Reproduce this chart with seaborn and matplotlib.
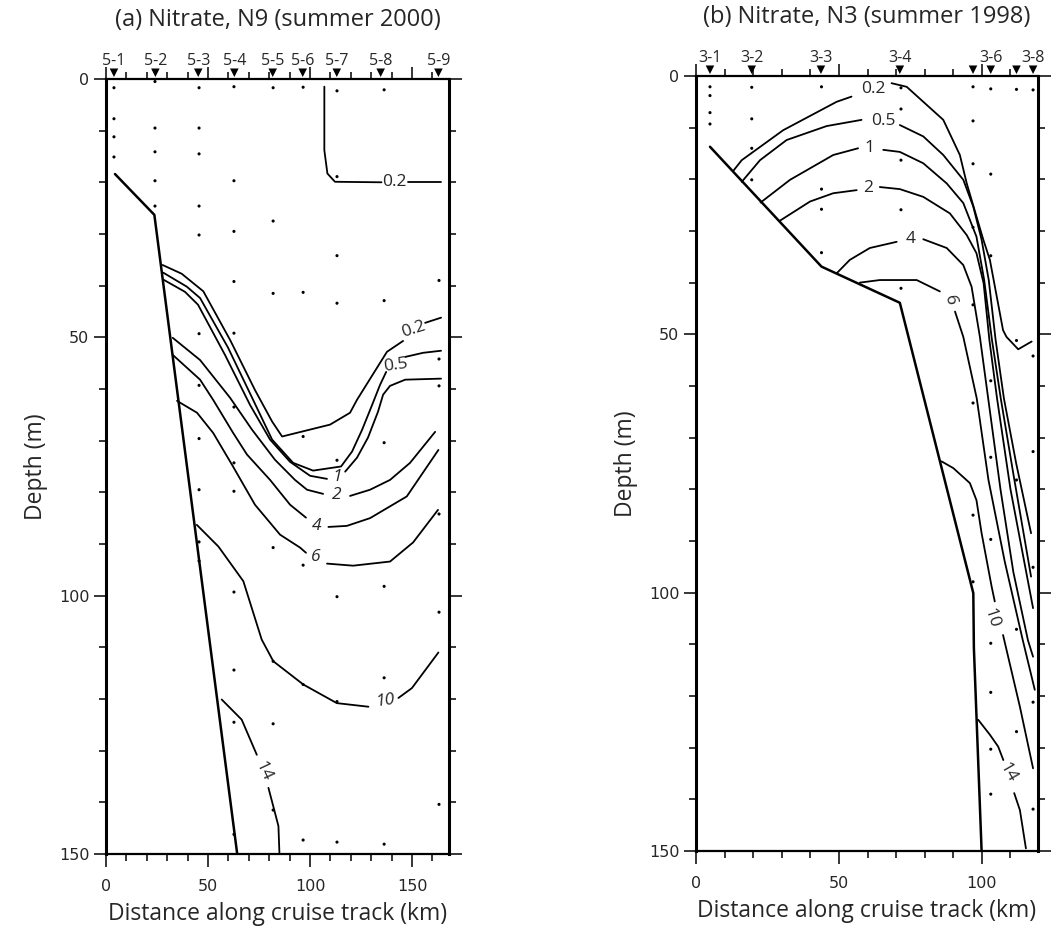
import numpy as np
import matplotlib
matplotlib.use("Agg")
import matplotlib.pyplot as plt
import seaborn as sns
from matplotlib.ticker import MultipleLocator

sns.set_theme(style="ticks")
plt.rcParams["font.family"] = ["Open Sans", "DejaVu Sans"]

nan = np.nan

# ---------------- Panel (a): N9, summer 2000 ----------------
a_station_km = [3.9, 24.2, 45.2, 62.9, 81.7, 96.4, 113.1, 134.6, 162.9]
a_station_lbl = ["5-1", "5-2", "5-3", "5-4", "5-5", "5-6", "5-7", "5-8", "5-9"]
a_bottom_km = [4.4, 23.7, 64.3]
a_bottom_z = [18.4, 26.3, 150.0]
a_cast_km = [3.9, 24.0, 45.6, 62.7, 81.9, 96.6, 113.2, 136.3, 163.2]
a_cast_z = [
    [1.7, 7.7, 11.2, 15.1],
    [0.5, 9.5, 14.1, 19.7, 24.6],
    [1.7, 9.5, 14.5, 24.6, 30.2, 49.3, 59.3, 69.6, 79.5, 89.6, 93.3],
    [1.5, 19.7, 29.5, 39.2, 49.2, 63.5, 74.3, 79.8, 99.3, 114.4, 124.5, 146.2],
    [1.7, 27.5, 41.5, 90.7, 112.7, 124.8, 141.5],
    [1.6, 41.3, 69.2, 94.1, 117.2, 147.3],
    [2.3, 18.9, 34.2, 43.4, 73.8, 100.2, 120.5, 147.7],
    [2.1, 42.9, 70.4, 98.2, 115.9, 148.1],
    [39.0, 54.2, 59.4, 84.2, 103.2, 140.4],
]
# contour lines (nan = gap for the label)
a_c02top_x = [107.0, 107.0, 108.5, 112.2, 135.0, nan, 148.0, 164.2]
a_c02top_z = [1.5, 13.8, 18.3, 19.9, 20.0, nan, 20.0, 20.0]
a_c02_x = [27.7, 37.1, 47.7, 60.8, 73.0, 81.4, 86.3, 109.8, 119.6, 123.0, 137.7, 145.6, nan, 156.4, 164.2]
a_c02_z = [36.0, 37.7, 41.1, 50.5, 60.2, 66.3, 69.2, 66.9, 64.6, 62.1, 52.8, 50.7, nan, 47.2, 46.2]
a_c05_x = [28.1, 39.6, 46.1, 59.8, 71.6, 81.4, 91.7, 101.5, 115.2, 120.6, 125.5, 130.4, 134.3, 137.3, nan, 146.6, 155.4, 164.2]
a_c05_z = [37.5, 40.2, 42.4, 52.0, 61.7, 69.8, 74.3, 75.8, 75.0, 72.1, 67.9, 63.1, 59.2, 56.7, nan, 53.8, 53.0, 52.6]
a_c1_x = [28.4, 38.7, 45.1, 58.3, 70.6, 80.4, 90.2, 100.0, 108.3, nan, 117.2, 123.0, 128.4, 133.3, 135.8, 139.2, 146.6, 164.2]
a_c1_z = [38.9, 41.2, 43.7, 53.4, 63.1, 69.8, 74.1, 76.8, 77.4, nan, 76.0, 73.3, 69.4, 64.4, 61.1, 59.4, 58.2, 58.0]
a_c2_x = [32.7, 46.1, 60.8, 71.6, 82.8, 92.6, 98.5, 106.4, nan, 119.6, 129.4, 139.2, 149.0, 161.3]
a_c2_z = [50.1, 54.4, 61.7, 67.9, 73.7, 77.6, 79.5, 80.3, nan, 80.7, 79.5, 77.6, 74.3, 68.3]
a_c4_x = [32.7, 46.1, 52.5, 62.3, 69.1, 80.4, 90.2, 98.0, nan, 109.0, 118.0, 129.4, 147.4, 162.9]
a_c4_z = [53.4, 58.2, 62.1, 68.5, 72.7, 77.6, 82.4, 84.9, nan, 86.7, 86.5, 85.0, 80.8, 71.8]
a_c6_x = [34.8, 44.6, 52.5, 61.8, 73.0, 85.3, 95.1, 98.0, nan, 108.3, 121.1, 139.2, 150.5, 162.7]
a_c6_z = [62.3, 64.6, 68.5, 74.7, 82.4, 88.2, 90.7, 91.7, nan, 93.8, 94.2, 93.4, 89.7, 83.4]
a_c10_x = [44.5, 55.1, 67.3, 76.3, 82.0, 96.7, 113.1, 128.6, nan, 143.3, 149.9, 162.9]
a_c10_z = [86.3, 90.5, 97.2, 108.5, 112.7, 117.2, 120.8, 121.5, nan, 119.8, 117.9, 111.0]
a_c14_x = [56.7, 66.5, 73.9, nan, 79.6, 82.4, 84.5, 85.0]
a_c14_z = [120.1, 124.0, 130.8, nan, 137.2, 141.4, 144.6, 150.0]
a_lbl_text = ["0.2", "0.2", "0.5", "1", "2", "4", "6", "10", "14"]
a_lbl_x = [141.5, 150.5, 142.2, 113.2, 113.2, 103.3, 102.9, 136.8, 77.1]
a_lbl_z = [20.0, 48.5, 55.5, 77.0, 80.5, 86.5, 92.5, 120.4, 134.0]
a_lbl_rot = [0, 18, 8, 0, 0, 0, 0, 8, -65]
a_lbl_style = ["normal", "normal", "normal", "italic", "italic", "italic", "italic", "italic", "normal"]

# ---------------- Panel (b): N3, summer 1998 ----------------
b_station_km = [4.9, 19.5, 43.7, 71.3, 96.9, 103.1, 112.1, 117.9]
b_station_lbl = ["3-1", "3-2", "3-3", "3-4", "", "3-6", "", "3-8"]
b_bottom_km = [4.9, 43.9, 71.3, 97.0, 97.2, 99.9]
b_bottom_z = [13.7, 36.9, 43.9, 100.1, 110.7, 150.0]
b_cast_km = [4.9, 19.5, 43.9, 71.7, 96.9, 103.1, 112.1, 117.9]
b_cast_z = [
    [2.1, 3.8, 7.1, 9.3],
    [2.2, 8.3, 14.0, 20.1],
    [2.1, 21.9, 25.8, 34.2],
    [2.3, 6.4, 16.3, 25.9, 41.1],
    [2.1, 8.7, 17.0, 29.3, 44.3, 63.3, 85.0, 97.9],
    [2.5, 19.0, 34.8, 59.0, 73.8, 89.7, 109.8, 119.3, 130.3, 139.0],
    [2.6, 51.2, 78.2, 107.1, 126.9],
    [2.7, 54.2, 72.7, 95.1, 121.2, 141.9],
]
b_c02_x = [13.0, 16.0, 30.5, 49.2, 54.4, nan, 68.4, 73.7, 86.5, 92.3, 94.7, 98.1, 100.5, 102.8, 107.4, 108.6, 112.7, 117.4]
b_c02_z = [18.4, 16.3, 10.5, 5.0, 4.0, nan, 1.4, 2.1, 8.5, 15.3, 20.8, 27.2, 31.7, 35.6, 49.2, 50.5, 52.9, 51.4]
b_c05_x = [16.0, 22.4, 31.7, 45.7, 57.9, nan, 71.3, 79.5, 86.5, 93.5, 97.0, 99.9, 102.4, 104.8, 107.7, 112.0, 117.2]
b_c05_z = [20.5, 16.3, 12.4, 9.7, 8.5, nan, 9.5, 11.7, 15.3, 20.1, 25.3, 31.7, 39.5, 51.1, 62.4, 75.0, 88.5]
b_c1_x = [22.6, 32.9, 48.0, 56.7, nan, 65.5, 71.3, 79.5, 87.7, 93.5, 98.1, 100.8, 103.5, 106.6, 111.0, 117.2]
b_c1_z = [24.5, 20.1, 15.3, 14.0, nan, 14.3, 14.7, 16.9, 20.8, 24.6, 31.1, 39.5, 51.0, 62.4, 77.0, 96.9]
b_c2_x = [29.4, 39.9, 48.0, 56.2, nan, 64.3, 71.3, 79.5, 88.8, 94.7, 98.1, 100.6, 102.6, 105.3, 110.0, 117.9]
b_c2_z = [28.0, 24.3, 22.7, 22.1, nan, 21.5, 21.9, 23.4, 26.6, 30.8, 34.3, 40.1, 51.0, 62.4, 80.0, 103.0]
b_c4_x = [49.2, 53.8, 60.8, 70.2, nan, 79.5, 87.7, 93.5, 96.4, 99.3, 102.2, 106.5, 111.0, 116.1, 117.9]
b_c4_z = [38.2, 35.6, 33.3, 32.1, nan, 31.6, 33.3, 36.6, 40.8, 50.5, 62.4, 80.0, 96.0, 109.2, 112.4]
b_c6_x = [57.3, 64.3, 77.2, 85.3, nan, 90.6, 93.5, 98.2, 102.3, 108.0, 114.3, 118.5]
b_c6_z = [40.0, 39.5, 39.5, 41.7, nan, 45.6, 50.5, 62.4, 78.2, 94.0, 109.2, 118.8]
b_c10_x = [85.9, 90.0, 95.8, 98.1, 99.9, 103.4, 104.5, nan, 107.4, 113.3, 117.9]
b_c10_z = [74.6, 75.9, 78.8, 82.1, 88.5, 98.8, 101.7, nan, 108.2, 122.1, 134.0]
b_c14_x = [98.7, 102.8, 105.7, 107.5, nan, 111.3, 113.3, 115.4]
b_c14_z = [124.6, 127.5, 129.8, 132.4, nan, 138.8, 142.1, 149.5]
b_lbl_text = ["0.2", "0.5", "1", "2", "4", "6", "10", "14"]
b_lbl_x = [62.0, 65.5, 60.8, 60.2, 75.1, 88.8, 103.4, 109.2]
b_lbl_z = [2.6, 8.8, 14.0, 21.7, 31.6, 43.4, 105.0, 134.9]
b_lbl_rot = [0, 0, 0, 0, 0, -80, -72, -60]

# ---------------- drawing ----------------
fig = plt.figure(figsize=(10.59, 9.40), dpi=100)
ax_a = fig.add_axes([0.1001, 0.0915, 0.3239, 0.8245])
ax_b = fig.add_axes([0.6572, 0.0947, 0.3229, 0.8245])


def draw_line(ax, xs, zs, lw=1.3):
    xs = np.asarray(xs, float)
    zs = np.asarray(zs, float)
    breaks = np.where(np.isnan(xs))[0]
    starts = np.r_[0, breaks + 1]
    ends = np.r_[breaks, len(xs)]
    for s, e in zip(starts, ends):
        if e - s >= 2:
            sns.lineplot(x=xs[s:e], y=zs[s:e], sort=False, estimator=None,
                         color="black", linewidth=lw, ax=ax)


def style_axes(ax, xmax):
    ax.set_xlim(0, xmax)
    ax.set_ylim(150, 0)
    ax.xaxis.set_major_locator(MultipleLocator(50))
    ax.xaxis.set_minor_locator(MultipleLocator(10))
    ax.yaxis.set_major_locator(MultipleLocator(50))
    ax.yaxis.set_minor_locator(MultipleLocator(10))
    ax.tick_params(which="both", direction="out", top=True, right=True,
                   labeltop=False, labelright=False, color="black", width=1.1)
    ax.tick_params(which="major", length=9)
    ax.tick_params(which="minor", length=5)
    ax.tick_params(axis="x", which="major", pad=9, labelsize=11.5)
    ax.tick_params(axis="y", which="major", pad=3, labelsize=11.5)
    for t in ax.get_xticklabels() + ax.get_yticklabels():
        t.set_fontfamily("DejaVu Sans")
    for side in ["left", "right"]:
        ax.spines[side].set_linewidth(2.2)
    for side in ["top", "bottom"]:
        ax.spines[side].set_linewidth(1.6)
    for side in ax.spines:
        ax.spines[side].set_color("black")
        ax.spines[side].set_visible(True)
    ax.set_xlabel("Distance along cruise track (km)", fontsize=16.5, labelpad=6)
    ax.set_ylabel("Depth (m)", fontsize=16.5, labelpad=8)


def draw_casts(ax, cast_km, cast_z):
    xs, zs = [], []
    for k, col in zip(cast_km, cast_z):
        xs += [k] * len(col)
        zs += col
    sns.scatterplot(x=xs, y=zs, s=5, color="black", edgecolor="none", ax=ax)


def draw_stations(ax, st_km, st_lbl):
    sns.scatterplot(x=st_km, y=[-1.2] * len(st_km), marker="v", s=38,
                    color="black", edgecolor="none", clip_on=False, ax=ax, zorder=5)
    for k, lbl in zip(st_km, st_lbl):
        if lbl:
            ax.text(k, -3.5, lbl, ha="center", va="center", fontsize=11.5,
                    clip_on=False)


# panel (a)
style_axes(ax_a, 168.1)
draw_line(ax_a, a_bottom_km, a_bottom_z, lw=1.8)
for xs, zs in [(a_c02top_x, a_c02top_z), (a_c02_x, a_c02_z), (a_c05_x, a_c05_z),
               (a_c1_x, a_c1_z), (a_c2_x, a_c2_z), (a_c4_x, a_c4_z),
               (a_c6_x, a_c6_z), (a_c10_x, a_c10_z), (a_c14_x, a_c14_z)]:
    draw_line(ax_a, xs, zs)
draw_casts(ax_a, a_cast_km, a_cast_z)
draw_stations(ax_a, a_station_km, a_station_lbl)
for t, x, z, r, st in zip(a_lbl_text, a_lbl_x, a_lbl_z, a_lbl_rot, a_lbl_style):
    ax_a.text(x, z, t, ha="center", va="center", fontsize=12.5, rotation=r,
              style=st)
ax_a.set_title("(a) Nitrate, N9 (summer 2000)", fontsize=17, pad=38)

# panel (b)
style_axes(ax_b, 119.6)
draw_line(ax_b, b_bottom_km, b_bottom_z, lw=1.8)
for xs, zs in [(b_c02_x, b_c02_z), (b_c05_x, b_c05_z), (b_c1_x, b_c1_z),
               (b_c2_x, b_c2_z), (b_c4_x, b_c4_z), (b_c6_x, b_c6_z),
               (b_c10_x, b_c10_z), (b_c14_x, b_c14_z)]:
    draw_line(ax_b, xs, zs)
draw_casts(ax_b, b_cast_km, b_cast_z)
draw_stations(ax_b, b_station_km, b_station_lbl)
for t, x, z, r in zip(b_lbl_text, b_lbl_x, b_lbl_z, b_lbl_rot):
    ax_b.text(x, z, t, ha="center", va="center", fontsize=12.5, rotation=r)
ax_b.set_title("(b) Nitrate, N3 (summer 1998)", fontsize=17, pad=38)

fig.savefig("out.png", dpi=100)
